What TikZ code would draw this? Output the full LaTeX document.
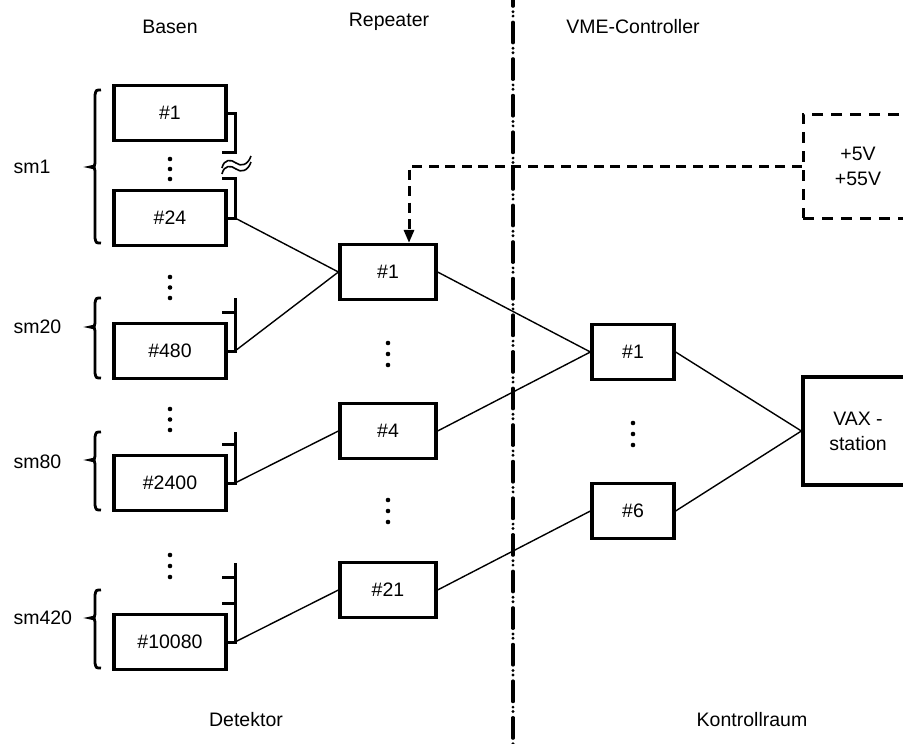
\documentclass[tikz,border=0pt]{standalone}
\usepackage{fontspec}
\setmainfont{Liberation Sans}
\usetikzlibrary{arrows.meta}

\begin{document}
\begin{tikzpicture}[x=1pt,y=-1pt,
  font=\fontsize{19.5}{25}\selectfont,
  unitbox/.style={draw, line width=3.2pt, rectangle, inner sep=0pt, minimum height=55pt},
  basebox/.style={unitbox, minimum width=112pt},
  repbox/.style={unitbox, minimum width=96pt},
  vmebox/.style={unitbox, minimum width=82pt},
  link/.style={line width=1.4pt},
  bus/.style={line width=3pt, line join=miter},
  wave/.style={line width=1.6pt},
  curly/.style={line width=2.8pt},
  divider/.style={line width=3.2pt, line cap=round,
    dash pattern=on 20.6pt off 5.5pt on 0pt off 4.4pt on 0pt off 6.1pt, dash phase=14.4pt},
  supply/.style={line width=3pt, dash pattern=on 10pt off 6.5pt},
  supplybox/.style={draw, line width=3pt, dash pattern=on 11pt off 8pt, rectangle,
    inner sep=0pt, minimum width=110pt, minimum height=104pt, align=center},
  dotmark/.style={fill=black}
]
\useasboundingbox (0,0) rectangle (903,744);

% column and area titles
\node (tBasen)  at (170,27)  {Basen};
\node (tRep)    at (389,22)  {Repeater};
\node (tVME)    at (633,27)  {VME-Controller};
\node (tDet)    at (246,720) {Detektor};
\node (tKontr)  at (752,720) {Kontrollraum};

% dash-dot boundary between detector and control room
\coordinate (divtop) at (513,0);
\coordinate (divbot) at (513,744);
\draw[divider] (divtop) -- (divbot);

% photomultiplier bases
\node[basebox] (b1)     at (170,113) {\#1};
\node[basebox] (b24)    at (170,218) {\#24};
\node[basebox] (b480)   at (170,351) {\#480};
\node[basebox] (b2400)  at (170,483) {\#2400};
\node[basebox] (b10080) at (170,642) {\#10080};

% repeaters
\node[repbox] (r1)  at (388,272) {\#1};
\node[repbox] (r4)  at (388,431) {\#4};
\node[repbox] (r21) at (388,590) {\#21};

% VME controllers
\node[vmebox] (v1) at (633,352) {\#1};
\node[vmebox] (v6) at (633,511) {\#6};

% VAX station (runs off the right edge)
\node[draw, line width=3.2pt, rectangle, inner sep=0pt, minimum width=110pt,
      minimum height=108pt, align=center] (vax) at (858,431) {VAX -\\station};

% power supply
\node[supplybox] (pwr) at (858,166) {+5V\\+55V};

% supermodule labels
\node[anchor=west] (lsm1)   at (10,167) {sm1};
\node[anchor=west] (lsm20)  at (10,327) {sm20};
\node[anchor=west] (lsm80)  at (10,462) {sm80};
\node[anchor=west] (lsm420) at (10,618) {sm420};

% braces grouping each supermodule
\foreach \t/\m/\b in {90/167/243, 298/327/378, 432/460/510, 590/618/668}{
  \draw[curly] (101,\t) .. controls (96,\t) .. (95,{\t+5}) -- (95,{\m-4})
     .. controls (95,{\m-1}) .. (90,\m) .. controls (95,{\m+1}) .. (95,{\m+4})
     -- (95,{\b-5}) .. controls (96,\b) .. (101,\b);
}

% bus junctions
\coordinate (j24)    at (235,218);
\coordinate (j480)   at (235,351);
\coordinate (j2400)  at (235,483);
\coordinate (j10080) at (235,642);

% sm1 bus with break
\draw[bus] (b1.east) -- (235,113) -- (235,152) -- (222,152);
\draw[bus] (222,178) -- (235,178) -- (j24) -- (b24.east);
\draw[wave] (222,168) .. controls (224,159) and (231,159) .. (236,163)
            .. controls (241,167) and (248,165) .. (251,156);
\draw[wave] (222,174) .. controls (224,165) and (231,165) .. (236,169)
            .. controls (241,173) and (248,171) .. (251,162);

% sm20 bus
\draw[bus] (222,312) -- (235,312);
\draw[bus] (235,298) -- (j480) -- (b480.east);
% sm80 bus
\draw[bus] (222,444) -- (235,444);
\draw[bus] (235,432) -- (j2400) -- (b2400.east);
% sm420 bus
\draw[bus] (222,577) -- (235,577);
\draw[bus] (222,603) -- (235,603);
\draw[bus] (235,563) -- (j10080) -- (b10080.east);

% signal cables
\draw[link] (j24) -- (r1.west);
\draw[link] (j480) -- (r1.west);
\draw[link] (j2400) -- (r4.west);
\draw[link] (j10080) -- (r21.west);
\draw[link] (r1.east) -- (v1.west);
\draw[link] (r4.east) -- (v1.west);
\draw[link] (r21.east) -- (v6.west);
\draw[link] (v1.east) -- (vax.west);
\draw[link] (v6.east) -- (vax.west);

% supply line to the repeater
\coordinate (pwrcorner) at (409,166);
\draw[supply, -{Triangle[width=10pt,length=13pt]}]
  (pwr.west) -- (pwrcorner) -- (pwrcorner |- r1.north);

% ellipsis dots
\foreach \y in {159,169,179, 277,287.5,298, 409,419.5,430, 555,566,577}
  \fill[dotmark] (170,\y) circle (2.3);
\foreach \y in {343,354,365, 500,511,522}
  \fill[dotmark] (388,\y) circle (2.3);
\foreach \y in {423,434,445}
  \fill[dotmark] (633,\y) circle (2.3);

\end{tikzpicture}
\end{document}
